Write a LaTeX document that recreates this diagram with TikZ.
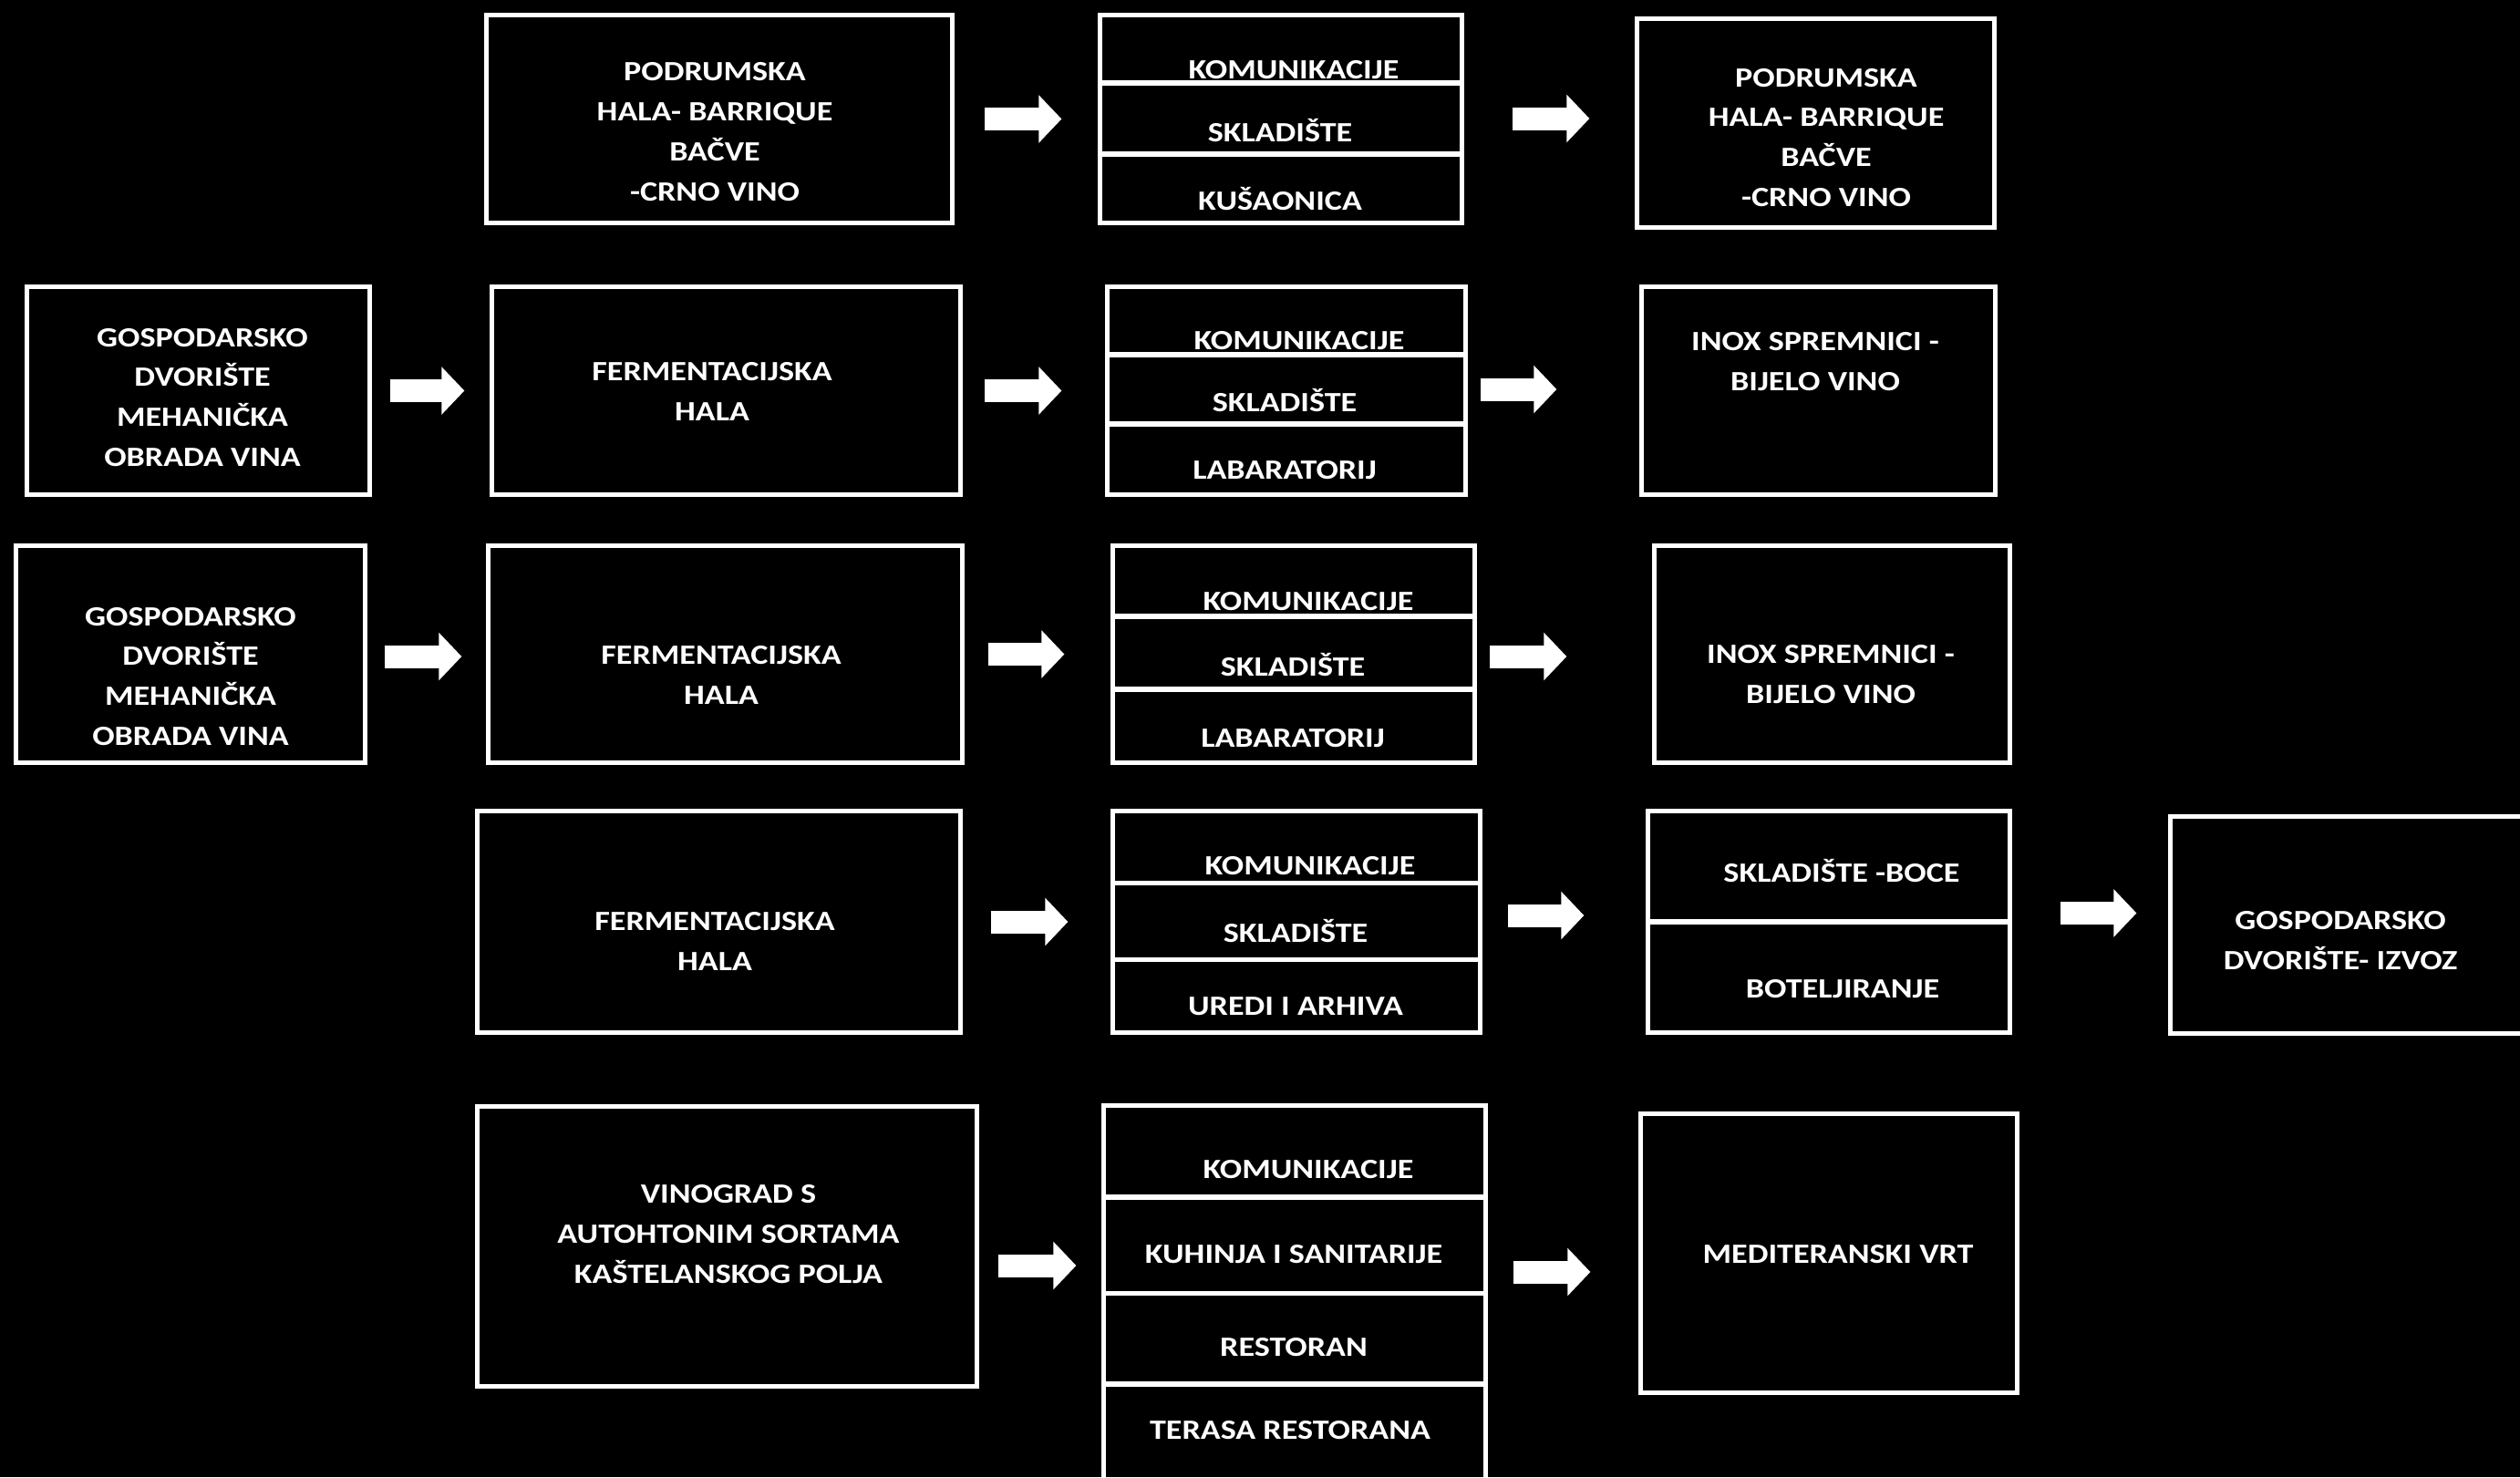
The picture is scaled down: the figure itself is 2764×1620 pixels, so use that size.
\documentclass[tikz,border=0pt]{standalone}
\usepackage{fontspec}
\setmainfont{Carlito}[FakeStretch=1.18]
\usetikzlibrary{arrows.meta}

\begin{document}
\begin{tikzpicture}[x=0.01cm, y=-0.01cm,
    box/.style={draw=white, line width=0.05cm, inner sep=0pt},
    lbl/.style={text=white, font=\fontsize{8.7pt}{12.5pt}\selectfont\bfseries, align=center, inner sep=0pt},
    one/.style={lbl, text height=0.2cm, text depth=0pt},
    flow/.style={white, line width=0.25cm, -{Triangle[length=0.25cm, width=0.51cm]}}
    ]
    \path[use as bounding box, fill=black] (0,0) rectangle (2764,1620);

    % row 1 - podrumska hala
    \node[box, minimum width=5.11cm, minimum height=2.28cm] (podL) at (789,130.5) {};
    \node[box, minimum width=3.97cm, minimum height=0.745cm] (s1a) at (1405,53.75) {};
    \node[box, minimum width=3.97cm, minimum height=0.78cm] (s1b) at (1405,130) {};
    \node[box, minimum width=3.97cm, minimum height=0.755cm] (s1c) at (1405,206.75) {};
    \node[box, minimum width=3.92cm, minimum height=2.29cm] (podR) at (1991.5,135) {};
    \node[lbl] (tpodL) at (784,144.5) {PODRUMSKA\\HALA- BARRIQUE\\BAČVE\\-CRNO VINO};
    \node[one] (ts1a) at (1419,76) {KOMUNIKACIJE};
    \node[one] (ts1b) at (1404,145) {SKLADIŠTE};
    \node[one] (ts1c) at (1404,220) {KUŠAONICA};
    \node[lbl] (tpodR) at (2003,151) {PODRUMSKA\\HALA- BARRIQUE\\BAČVE\\-CRNO VINO};
    \draw[flow, shorten <=0.325cm, shorten >=0.395cm] (podL.east) -- (podL.east -| s1b.west);
    \draw[flow, shorten <=0.525cm, shorten >=0.495cm] (s1b.east) -- (s1b.east -| podR.west);

    % row 2 - bijelo vino
    \node[box, minimum width=3.76cm, minimum height=2.28cm] (gosp2) at (217.5,428.5) {};
    \node[box, minimum width=5.14cm, minimum height=2.28cm] (ferm2) at (796.5,428.5) {};
    \node[box, minimum width=3.93cm, minimum height=0.745cm] (s2a) at (1411,351.75) {};
    \node[box, minimum width=3.93cm, minimum height=0.76cm] (s2b) at (1411,427) {};
    \node[box, minimum width=3.93cm, minimum height=0.775cm] (s2c) at (1411,503.75) {};
    \node[box, minimum width=3.88cm, minimum height=2.28cm] (inox2) at (1994.5,428.5) {};
    \node[lbl] (tgosp2) at (222,436) {GOSPODARSKO\\DVORIŠTE\\MEHANIČKA\\OBRADA VINA};
    \node[lbl] (tferm2) at (781,429) {FERMENTACIJSKA\\HALA};
    \node[one] (ts2a) at (1425,373) {KOMUNIKACIJE};
    \node[one] (ts2b) at (1409,441) {SKLADIŠTE};
    \node[one] (ts2c) at (1409,515) {LABARATORIJ};
    \node[lbl] (tinox2) at (1991,396.5) {INOX SPREMNICI -\\BIJELO VINO};
    \draw[flow, shorten <=0.195cm, shorten >=0.275cm] (gosp2.east) -- (gosp2.east -| ferm2.west);
    \draw[flow, shorten <=0.235cm, shorten >=0.475cm] (ferm2.east) -- (ferm2.east -| s2b.west);
    \draw[flow, shorten <=0.135cm, shorten >=0.905cm] (s2b.east) -- (s2b.east -| inox2.west);

    % row 3
    \node[box, minimum width=3.83cm, minimum height=2.38cm] (gosp3) at (209,717.5) {};
    \node[box, minimum width=5.2cm, minimum height=2.38cm] (ferm3) at (795.5,717.5) {};
    \node[box, minimum width=3.97cm, minimum height=0.775cm] (s3a) at (1419,637.25) {};
    \node[box, minimum width=3.97cm, minimum height=0.8cm] (s3b) at (1419,716) {};
    \node[box, minimum width=3.97cm, minimum height=0.805cm] (s3c) at (1419,796.25) {};
    \node[box, minimum width=3.9cm, minimum height=2.38cm] (inox3) at (2009.5,717.5) {};
    \node[lbl] (tgosp3) at (209,742) {GOSPODARSKO\\DVORIŠTE\\MEHANIČKA\\OBRADA VINA};
    \node[lbl] (tferm3) at (791,740) {FERMENTACIJSKA\\HALA};
    \node[one] (ts3a) at (1435,659) {KOMUNIKACIJE};
    \node[one] (ts3b) at (1418,731) {SKLADIŠTE};
    \node[one] (ts3c) at (1418,809) {LABARATORIJ};
    \node[lbl] (tinox3) at (2008,740) {INOX SPREMNICI -\\BIJELO VINO};
    \draw[flow, shorten <=0.185cm, shorten >=0.265cm] ([yshift=-0.025cm]gosp3.east) -- ([yshift=-0.025cm]gosp3.east -| ferm3.west);
    \draw[flow, shorten <=0.255cm, shorten >=0.505cm] (ferm3.east) -- (ferm3.east -| s3b.west);
    \draw[flow, shorten <=0.135cm, shorten >=0.935cm] ([yshift=-0.04cm]s3b.east) -- ([yshift=-0.04cm]s3b.east -| inox3.west);

    % row 4 - boce i izvoz
    \node[box, minimum width=5.3cm, minimum height=2.43cm] (ferm4) at (788.5,1011) {};
    \node[box, minimum width=4.03cm, minimum height=0.785cm] (s4a) at (1422,928.75) {};
    \node[box, minimum width=4.03cm, minimum height=0.84cm] (s4b) at (1422,1010) {};
    \node[box, minimum width=4.03cm, minimum height=0.805cm] (s4c) at (1422,1092.25) {};
    \node[box, minimum width=3.97cm, minimum height=1.215cm] (s5a) at (2006,950.25) {};
    \node[box, minimum width=3.97cm, minimum height=1.215cm] (s5b) at (2006,1071.75) {};
    \node[box, minimum width=4.095cm, minimum height=2.38cm] (izvoz) at (2585.25,1014.5) {};
    \node[lbl] (tferm4) at (784,1032) {FERMENTACIJSKA\\HALA};
    \node[one] (ts4a) at (1437,949) {KOMUNIKACIJE};
    \node[one] (ts4b) at (1421,1023) {SKLADIŠTE};
    \node[one] (ts4c) at (1421,1103) {UREDI I ARHIVA};
    \node[one] (ts5a) at (2020,957) {SKLADIŠTE -BOCE};
    \node[one] (ts5b) at (2021,1084) {BOTELJIRANJE};
    \node[lbl] (tizvoz) at (2567,1031.5) {GOSPODARSKO\\DVORIŠTE- IZVOZ};
    \draw[flow, shorten <=0.305cm, shorten >=0.465cm] (ferm4.east) -- (ferm4.east -| s4b.west);
    \draw[flow, shorten <=0.275cm, shorten >=0.675cm] ([yshift=0.06cm]s4b.east) -- ([yshift=0.06cm]s4b.east -| s5a.west);
    \draw[flow, shorten <=0.525cm, shorten >=0.345cm] ([yshift=0.07cm]s5b.north east) -- ([yshift=0.07cm]s5b.north east -| izvoz.west);

    % row 5 - vinograd i restoran
    \node[box, minimum width=5.48cm, minimum height=3.07cm] (vino) at (797.5,1367) {};
    \node[box, minimum width=4.19cm, minimum height=1.005cm] (s6a) at (1420,1262.75) {};
    \node[box, minimum width=4.19cm, minimum height=1.05cm] (s6b) at (1420,1365.5) {};
    \node[box, minimum width=4.19cm, minimum height=1.0cm] (s6c) at (1420,1468) {};
    \node[box, minimum width=4.19cm, minimum height=1.22cm] (s6d) at (1420,1579) {};
    \node[box, minimum width=4.13cm, minimum height=3.06cm] (medit) at (2006,1374.5) {};
    \node[lbl] (tvino) at (799,1353.5) {VINOGRAD S\\AUTOHTONIM SORTAMA\\KAŠTELANSKOG POLJA};
    \node[one] (ts6a) at (1435,1282) {KOMUNIKACIJE};
    \node[one] (ts6b) at (1419,1375) {KUHINJA I SANITARIJE};
    \node[one] (ts6c) at (1419,1477) {RESTORAN};
    \node[one] (ts6d) at (1415,1568) {TERASA RESTORANA};
    \node[one] (tmedit) at (2016,1375) {MEDITERANSKI VRT};
    \draw[flow, shorten <=0.205cm, shorten >=0.275cm] ([yshift=-0.21cm]vino.east) -- ([yshift=-0.21cm]vino.east -| s6b.west);
    \draw[flow, shorten <=0.275cm, shorten >=0.525cm] ([yshift=-0.295cm]s6b.east) -- ([yshift=-0.295cm]s6b.east -| medit.west);
\end{tikzpicture}
\end{document}
